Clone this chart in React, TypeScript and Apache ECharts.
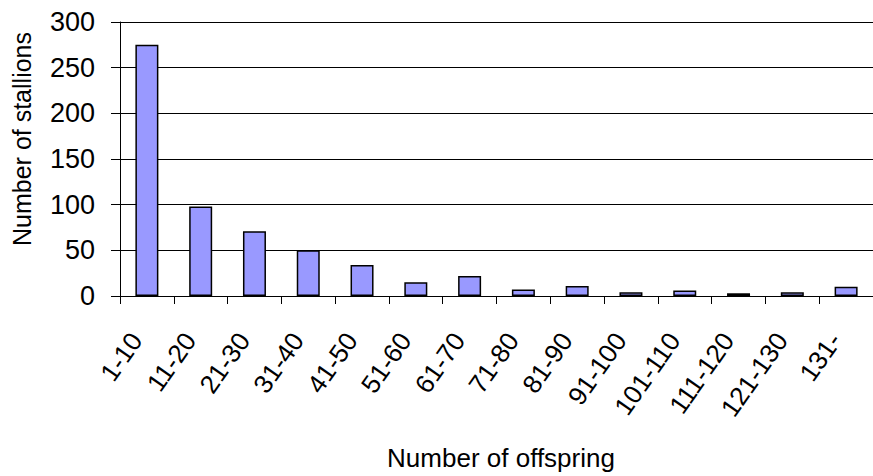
import React, { useEffect, useRef } from "react";
import * as echarts from "echarts";

const categories = [
  "1-10", "11-20", "21-30", "31-40", "41-50", "51-60", "61-70",
  "71-80", "81-90", "91-100", "101-110", "111-120", "121-130", "131-",
];
const stallions = [275, 98, 71, 50, 34, 15, 22, 7, 11, 4, 6, 3, 4, 10];
const yTitle = "Number of stallions";
const xTitle = "Number of offspring";

export default function App() {
  const ref = useRef<HTMLDivElement>(null);
  useEffect(() => {
    if (!ref.current) return;
    const chart = echarts.init(ref.current, undefined, { renderer: "svg" });
    const font = "'Liberation Sans', Arial, sans-serif";
    chart.setOption({
      animation: false,
      grid: { left: 120, top: 22, width: 762.4, height: 274, containLabel: false },
      xAxis: {
        type: "category",
        data: categories,
        axisLine: { show: true, lineStyle: { color: "#000", width: 1 } },
        axisTick: { show: true, length: 8, lineStyle: { color: "#000" } },
        axisLabel: {
          rotate: 55,
          fontSize: 26,
          color: "#000",
          fontFamily: font,
          margin: 47,
          interval: 0,
          align: "right",
          verticalAlign: "bottom",
        },
      },
      yAxis: {
        type: "value",
        min: 0,
        max: 300,
        interval: 50,
        axisLine: { show: true, lineStyle: { color: "#000", width: 1 } },
        axisTick: { show: true, length: 9, lineStyle: { color: "#000" } },
        axisLabel: { fontSize: 27, color: "#000", fontFamily: font, margin: 25 },
        splitLine: { show: true, lineStyle: { color: "#000", width: 1 } },
      },
      series: [
        {
          type: "bar",
          data: stallions,
          barWidth: 23,
          itemStyle: { color: "#9999FF", borderColor: "#000", borderWidth: 1.5 },
        },
      ],
      graphic: [
        {
          type: "text",
          x: 22,
          y: 139,
          rotation: Math.PI / 2,
          style: {
            text: yTitle,
            fontSize: 25,
            fontFamily: font,
            fill: "#000",
            align: "center",
            verticalAlign: "middle",
          },
        },
        {
          type: "text",
          x: 501,
          y: 458,
          style: {
            text: xTitle,
            fontSize: 26,
            fontFamily: font,
            fill: "#000",
            align: "center",
            verticalAlign: "middle",
          },
        },
      ],
    });
    return () => chart.dispose();
  }, []);
  return (
    <div
      ref={ref}
      style={{ position: "absolute", left: 0, top: 0, width: 873, height: 476 }}
    />
  );
}
